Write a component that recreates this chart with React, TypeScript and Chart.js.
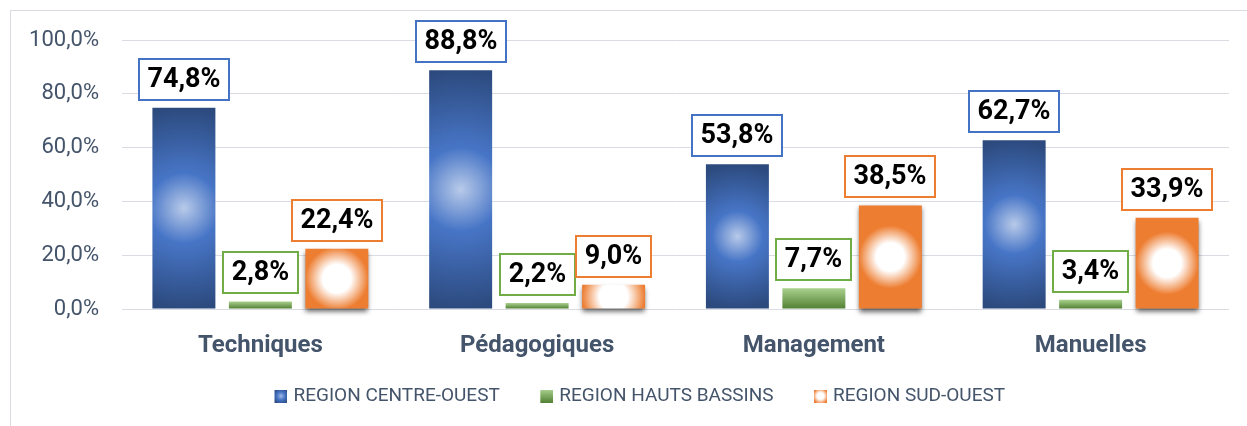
import React, { useEffect, useRef } from 'react';
import { Chart, registerables } from 'chart.js';

Chart.register(...registerables);

const categories = ['Techniques', 'Pédagogiques', 'Management', 'Manuelles'];
const seriesNames = ['REGION CENTRE-OUEST', 'REGION HAUTS BASSINS', 'REGION SUD-OUEST'];
const centreOuest = [74.8, 88.8, 53.8, 62.7];
const hautsBassins = [2.8, 2.2, 7.7, 3.4];
const sudOuest = [22.4, 9.0, 38.5, 33.9];
const yMin = 0;
const yMax = 100;
const yStep = 20;

const seriesColors = ['#4472c4', '#70ad47', '#ed7d31'];
const TEXT_COLOR = '#44546a';
const FONT = "Roboto, 'Liberation Sans', Arial, sans-serif";
const LABEL_FONT = "bold 27px Roboto, 'Liberation Sans', Arial, sans-serif";

const LEGEND_BOX_W = 38;
const SWATCH = 13;

const fmt = (v: number) => v.toFixed(1).replace('.', ',') + '%';

type FillFn = (ctx: CanvasRenderingContext2D, x: number, top: number, w: number, h: number) => CanvasGradient;

const blueFill: FillFn = (ctx, x, top, w, h) => {
  const cx = x + w / 2;
  const cy = top + h / 2;
  const r = Math.max(h / 2, w / 2, 1);
  const g = ctx.createRadialGradient(cx, cy, 0, cx, cy, r);
  g.addColorStop(0, '#b8cae9');
  g.addColorStop(0.35, '#4775c6');
  g.addColorStop(1, '#2c4a7e');
  return g;
};

const greenFill: FillFn = (ctx, x, top, w, h) => {
  const g = ctx.createLinearGradient(0, top, 0, top + Math.max(h, 1));
  g.addColorStop(0, '#a9d18e');
  g.addColorStop(1, '#548235');
  return g;
};

const orangeFill: FillFn = (ctx, x, top, w, h) => {
  const cx = x + w / 2;
  const cy = top + h / 2;
  const r = Math.max(w / 2, 1);
  const g = ctx.createRadialGradient(cx, cy, 0, cx, cy, r);
  g.addColorStop(0, '#ffffff');
  g.addColorStop(0.45, '#ffffff');
  g.addColorStop(1, '#ed7d31');
  return g;
};

const fills: FillFn[] = [blueFill, greenFill, orangeFill];

// Legend swatch: a transparent canvas whose right end holds the coloured square,
// so the square sits right before the legend text.
function makeSwatch(i: number): HTMLCanvasElement {
  const c = document.createElement('canvas');
  const W = LEGEND_BOX_W + 7;
  c.width = W;
  c.height = SWATCH;
  const ctx = c.getContext('2d') as CanvasRenderingContext2D;
  const sx = W - SWATCH;
  const m = SWATCH / 2;
  if (i === 0) {
    const g = ctx.createRadialGradient(sx + m, m, 0, sx + m, m, m * 1.3);
    g.addColorStop(0, '#a7bde6');
    g.addColorStop(0.5, '#4472c4');
    g.addColorStop(1, '#2c4a7e');
    ctx.fillStyle = g;
  } else if (i === 1) {
    const g = ctx.createLinearGradient(0, 0, 0, SWATCH);
    g.addColorStop(0, '#a9d18e');
    g.addColorStop(1, '#548235');
    ctx.fillStyle = g;
  } else {
    const g = ctx.createRadialGradient(sx + m, m, 0, sx + m, m, m * 1.2);
    g.addColorStop(0, '#ffffff');
    g.addColorStop(0.45, '#ffffff');
    g.addColorStop(1, '#ed7d31');
    ctx.fillStyle = g;
  }
  ctx.fillRect(sx, 0, SWATCH, SWATCH);
  return c;
}

const barStyler = {
  id: 'barStyler',
  beforeDatasetsDraw(chart: any) {
    const ctx = chart.ctx as CanvasRenderingContext2D;
    chart.data.datasets.forEach((_ds: any, di: number) => {
      const meta = chart.getDatasetMeta(di);
      meta.data.forEach((el: any) => {
        const { x, y, base, width } = el.getProps(['x', 'y', 'base', 'width'], true);
        const left = x - width / 2;
        const top = Math.min(y, base);
        const h = Math.abs(base - y);
        if (el.options && !Object.isFrozen(el.options)) {
          el.options.backgroundColor = fills[di](ctx, left, top, width, h);
        }
      });
    });
  },
  beforeDatasetDraw(chart: any, args: any) {
    if (args.index === 2) {
      const ctx = chart.ctx as CanvasRenderingContext2D;
      ctx.save();
      ctx.shadowColor = 'rgba(0,0,0,0.6)';
      ctx.shadowBlur = 5;
      ctx.shadowOffsetX = 0;
      ctx.shadowOffsetY = 3;
    }
  },
  afterDatasetDraw(chart: any, args: any) {
    if (args.index === 2) {
      chart.ctx.restore();
    }
  },
};

const labelBoxes = {
  id: 'labelBoxes',
  afterDatasetsDraw(chart: any) {
    const ctx = chart.ctx as CanvasRenderingContext2D;
    ctx.save();
    ctx.font = LABEL_FONT;
    chart.data.datasets.forEach((ds: any, di: number) => {
      const meta = chart.getDatasetMeta(di);
      meta.data.forEach((el: any, i: number) => {
        const text = fmt(ds.data[i]);
        const tw = ctx.measureText(text).width;
        const w = Math.round(tw + 19);
        const h = 43;
        const bx = Math.round(el.x - w / 2);
        const by = Math.round(el.y - 7 - h);
        ctx.fillStyle = '#ffffff';
        ctx.fillRect(bx, by, w, h);
        ctx.lineWidth = 2;
        ctx.strokeStyle = seriesColors[di];
        ctx.strokeRect(bx + 1, by + 1, w - 2, h - 2);
        ctx.fillStyle = '#000000';
        ctx.textAlign = 'center';
        ctx.textBaseline = 'middle';
        ctx.fillText(text, bx + w / 2, by + h / 2 + 1);
      });
    });
    ctx.restore();
  },
};

const legendShift = {
  id: 'legendShift',
  afterLayout(chart: any) {
    const lg = chart.legend;
    if (lg) {
      lg.left += 11;
      lg.right += 11;
    }
  },
};

export default function App() {
  const ref = useRef<HTMLCanvasElement | null>(null);

  useEffect(() => {
    if (!ref.current) return;
    const swatches = [0, 1, 2].map(makeSwatch);
    const values = [centreOuest, hautsBassins, sudOuest];
    const chart = new Chart(ref.current, {
      type: 'bar',
      data: {
        labels: categories,
        datasets: values.map((vals, i) => ({
          label: seriesNames[i],
          data: vals,
          backgroundColor: () => seriesColors[i],
          borderWidth: 0,
          categoryPercentage: 0.829,
          barPercentage: 0.8235,
          clip: i === 2 ? false : undefined,
        })) as any,
      },
      options: {
        animation: false,
        responsive: false,
        devicePixelRatio: 1,
        layout: { padding: { left: 0, top: 40, right: 18, bottom: 10.5 } },
        scales: {
          x: {
            grid: { display: false },
            border: { display: false },
            ticks: {
              color: TEXT_COLOR,
              font: { family: FONT, size: 24, weight: 'bold' },
              padding: 15,
              maxRotation: 0,
            },
            afterFit: (scale: any) => {
              scale.height = 65.5;
            },
          },
          y: {
            min: yMin,
            max: yMax,
            grid: { color: '#d9dde3', lineWidth: 1, drawTicks: false },
            border: { display: false },
            ticks: {
              stepSize: yStep,
              color: TEXT_COLOR,
              font: { family: FONT, size: 22 },
              padding: 23,
              callback: (v: any) => fmt(Number(v)),
            },
            afterFit: (scale: any) => {
              scale.width = 122;
            },
          },
        },
        plugins: {
          tooltip: { enabled: false },
          legend: {
            position: 'bottom',
            labels: {
              usePointStyle: true,
              pointStyleWidth: LEGEND_BOX_W,
              padding: 12,
              color: TEXT_COLOR,
              font: { family: FONT, size: 19 },
              generateLabels: (ch: any) =>
                ch.data.datasets.map((ds: any, i: number) => ({
                  text: ds.label,
                  fillStyle: seriesColors[i],
                  strokeStyle: seriesColors[i],
                  lineWidth: 0,
                  pointStyle: swatches[i],
                  fontColor: TEXT_COLOR,
                  hidden: false,
                  datasetIndex: i,
                })),
            },
          },
        },
      } as any,
      plugins: [barStyler, labelBoxes, legendShift],
    });
    return () => chart.destroy();
  }, []);

  return (
    <div
      style={{
        position: 'absolute',
        left: 0,
        top: 0,
        width: 1247,
        height: 426,
        overflow: 'hidden',
        background: '#ffffff',
      }}
    >
      <div
        style={{
          position: 'absolute',
          left: 10,
          top: 10,
          width: 1400,
          height: 600,
          border: '1px solid #d9dde3',
        }}
      />
      <canvas
        ref={ref}
        width={1247}
        height={426}
        style={{ position: 'absolute', left: 0, top: 0, width: 1247, height: 426 }}
      />
    </div>
  );
}
